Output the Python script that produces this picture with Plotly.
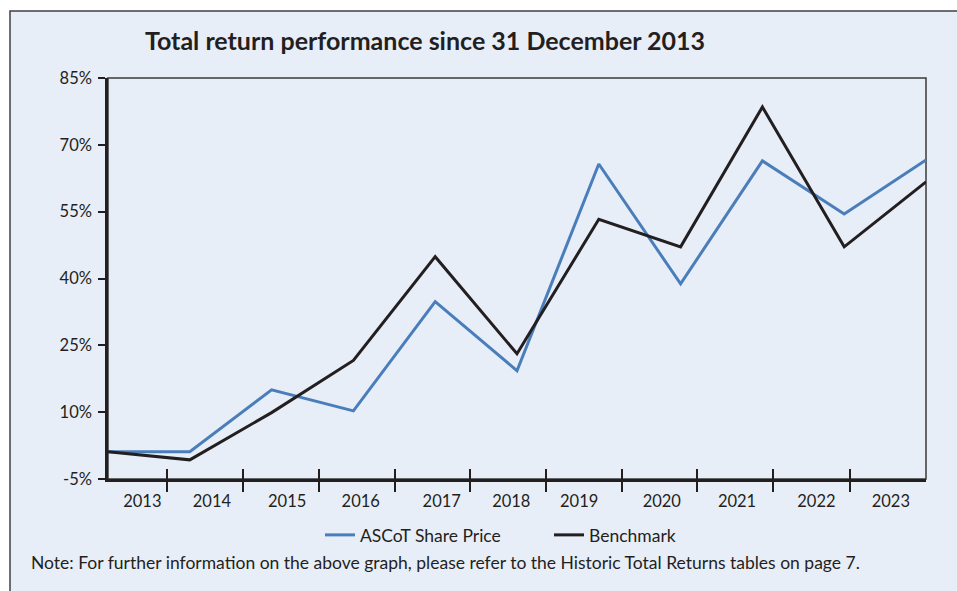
import plotly.graph_objects as go

# ---- data ----
years = ["2013", "2014", "2015", "2016", "2017", "2018", "2019", "2020", "2021", "2022", "2023"]
point_index = [0, 1, 2, 3, 4, 5, 6, 7, 8, 9, 10]
ascot_share_price = [1.1, 1.1, 15.0, 10.3, 34.8, 19.3, 65.7, 38.8, 66.4, 54.5, 66.6]
benchmark = [1.1, -0.7, 9.9, 21.6, 44.9, 23.1, 53.3, 47.1, 78.5, 47.1, 61.7]
y_ticks = [-5, 10, 25, 40, 55, 70, 85]
x_tick_marks = [0.72, 1.65, 2.58, 3.51, 4.43, 5.35, 6.28, 7.20, 8.13, 9.07]
x_label_pos = [0.42, 1.27, 2.19, 3.09, 4.08, 4.93, 5.76, 6.77, 7.69, 8.66, 9.57]

BG = "#E8EEF8"
TXT = "#231F20"
FONT = "Lato"

fig = go.Figure()
fig.add_trace(go.Scatter(x=point_index, y=ascot_share_price, mode="lines",
                         name="ASCoT Share Price",
                         line=dict(color="#4A7EBB", width=3)))
fig.add_trace(go.Scatter(x=point_index, y=benchmark, mode="lines",
                         name="Benchmark",
                         line=dict(color=TXT, width=3)))
# invisible helpers so the overlaying axes get drawn
for ax in ("x2", "x3"):
    fig.add_trace(go.Scatter(x=[point_index[0], point_index[-1]], y=[y_ticks[0], y_ticks[0]],
                             xaxis=ax, yaxis="y", mode="markers",
                             marker=dict(opacity=0), showlegend=False, hoverinfo="skip"))

# baseline
fig.add_hline(y=ascot_share_price[0], line=dict(color="#555555", width=1.3), layer="below")

W, H = 957, 591
L, R, T, B = 108, 31, 78, 112
pw, ph = W - L - R, H - T - B

def px_x(p):
    return (p - L) / pw

def px_y(p):
    return (H - B - p) / ph

# outer frame (clipped at right/bottom)
fig.add_shape(type="rect", xref="paper", yref="paper",
              x0=px_x(10), x1=px_x(965), y0=px_y(600), y1=px_y(11),
              fillcolor=BG, line=dict(color="#404040", width=1.5), layer="below")
# plot frame
fig.add_shape(type="rect", xref="paper", yref="paper", x0=0, x1=1, y0=0, y1=1,
              line=dict(color="#3A3A3A", width=1.5), layer="below")

fig.update_layout(
    width=W, height=H,
    margin=dict(l=L, r=R, t=T, b=B),
    paper_bgcolor="white",
    plot_bgcolor="rgba(0,0,0,0)",
    font=dict(family=FONT, color=TXT, size=16),
    showlegend=True,
    legend=dict(orientation="h", x=px_x(320), xanchor="left",
                y=px_y(535), yanchor="middle",
                bgcolor="rgba(0,0,0,0)", font=dict(family=FONT, size=17.5, color=TXT),
                entrywidth=184, entrywidthmode="pixels"),
    xaxis=dict(range=[0, 10], tickmode="array", tickvals=x_tick_marks,
               showticklabels=False, ticks="outside", ticklen=10, tickwidth=2,
               tickcolor=TXT, showline=True, linecolor=TXT, linewidth=2.5,
               showgrid=False, zeroline=False),
    xaxis2=dict(range=[0, 10], overlaying="x", anchor="y", side="bottom",
                tickmode="array", tickvals=x_tick_marks, showticklabels=False,
                ticks="inside", ticklen=10, tickwidth=2, tickcolor=TXT,
                showline=False, showgrid=False, zeroline=False),
    xaxis3=dict(range=[0, 10], overlaying="x", anchor="y", side="bottom",
                tickmode="array", tickvals=x_label_pos, ticktext=years,
                ticks="", showline=False, showgrid=False, zeroline=False,
                ticklabelstandoff=10,
                tickfont=dict(family=FONT, size=16.5, color=TXT)),
    yaxis=dict(range=[-5, 85], tickmode="array", tickvals=y_ticks,
               ticktext=[f"{v}%" for v in y_ticks],
               ticks="outside", ticklen=7, tickwidth=2, tickcolor=TXT,
               showline=True, linecolor=TXT, linewidth=2.5,
               showgrid=False, zeroline=False, ticklabelstandoff=3,
               tickfont=dict(family=FONT, size=16.5, color=TXT)),
)

fig.add_annotation(text="<b>Total return performance since 31 December 2013</b>",
                   xref="paper", yref="paper", x=px_x(425), y=px_y(40),
                   xanchor="center", yanchor="middle", showarrow=False,
                   font=dict(family=FONT, size=25, color=TXT))
fig.add_annotation(text="Note: For further information on the above graph, please refer to the Historic Total Returns tables on page 7.",
                   xref="paper", yref="paper", x=px_x(29), y=px_y(562),
                   xanchor="left", yanchor="middle", showarrow=False,
                   font=dict(family=FONT, size=17.5, color=TXT))

fig.write_html("out.html", config={"displayModeBar": False},
               post_script="document.body.style.margin='0px';")
